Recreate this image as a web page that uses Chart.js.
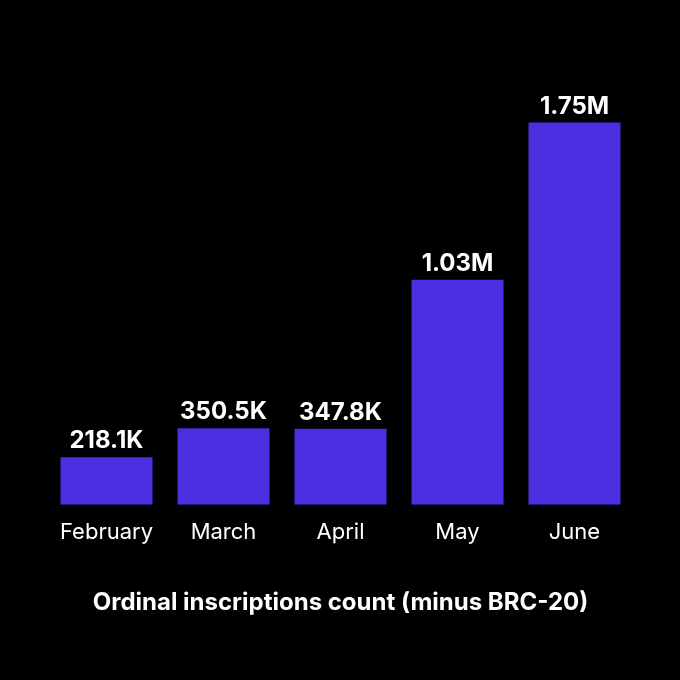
<!DOCTYPE html>
<html><head><meta charset="utf-8">
<script src="https://cdn.jsdelivr.net/npm/chart.js@4/dist/chart.umd.min.js"></script>
<style>html,body{margin:0;padding:0;background:#000;}#wrap{width:680px;height:680px;}</style>
</head><body><div id="wrap"><canvas id="c" width="680" height="680"></canvas></div>
<script>
const categories = ["February","March","April","May","June"];
const values = [218100, 350500, 347800, 1030000, 1750000];
const valueLabels = ["218.1K","350.5K","347.8K","1.03M","1.75M"];
const chartTitle = "Ordinal inscriptions count (minus BRC-20)";

const FONT = "Inter, 'Open Sans', sans-serif";
const labelPlugin = {
  id: 'valLabels',
  afterDatasetsDraw(chart) {
    const ctx = chart.ctx;
    const meta = chart.getDatasetMeta(0);
    ctx.save();
    ctx.fillStyle = '#ffffff';
    ctx.font = "700 24px " + FONT;
    ctx.textAlign = 'center';
    ctx.textBaseline = 'alphabetic';
    meta.data.forEach((bar, i) => {
      ctx.fillText(valueLabels[i], bar.x, bar.y - 9);
    });
    ctx.restore();
  }
};
const bg = {
  id: 'bg',
  beforeDraw(chart){ const c=chart.ctx; c.save(); c.fillStyle='#000'; c.fillRect(0,0,chart.width,chart.height); c.restore(); }
};
new Chart(document.getElementById('c'), {
  type: 'bar',
  data: { labels: categories, datasets: [{ data: values, backgroundColor: '#4a2ee0', borderWidth: 0, barPercentage: 0.786, categoryPercentage: 1 }] },
  options: {
    responsive: false, animation: false, devicePixelRatio: 1,
    layout: { padding: { left: 48, right: 47, top: 68, bottom: 63 } },
    plugins: {
      legend: { display: false }, tooltip: { enabled: false },
      title: { display: true, position: 'bottom', text: chartTitle, color: '#ffffff', font: { family: FONT, size: 24, weight: '700' }, padding: { top: 37, bottom: 0 } }
    },
    scales: {
      x: { grid: { display: false }, border: { display: false }, ticks: { color: '#ffffff', font: { family: FONT, size: 22 }, padding: 6 } },
      y: { display: false, min: 0, max: 2000000 }
    }
  },
  plugins: [bg, labelPlugin]
});
</script></body></html>
